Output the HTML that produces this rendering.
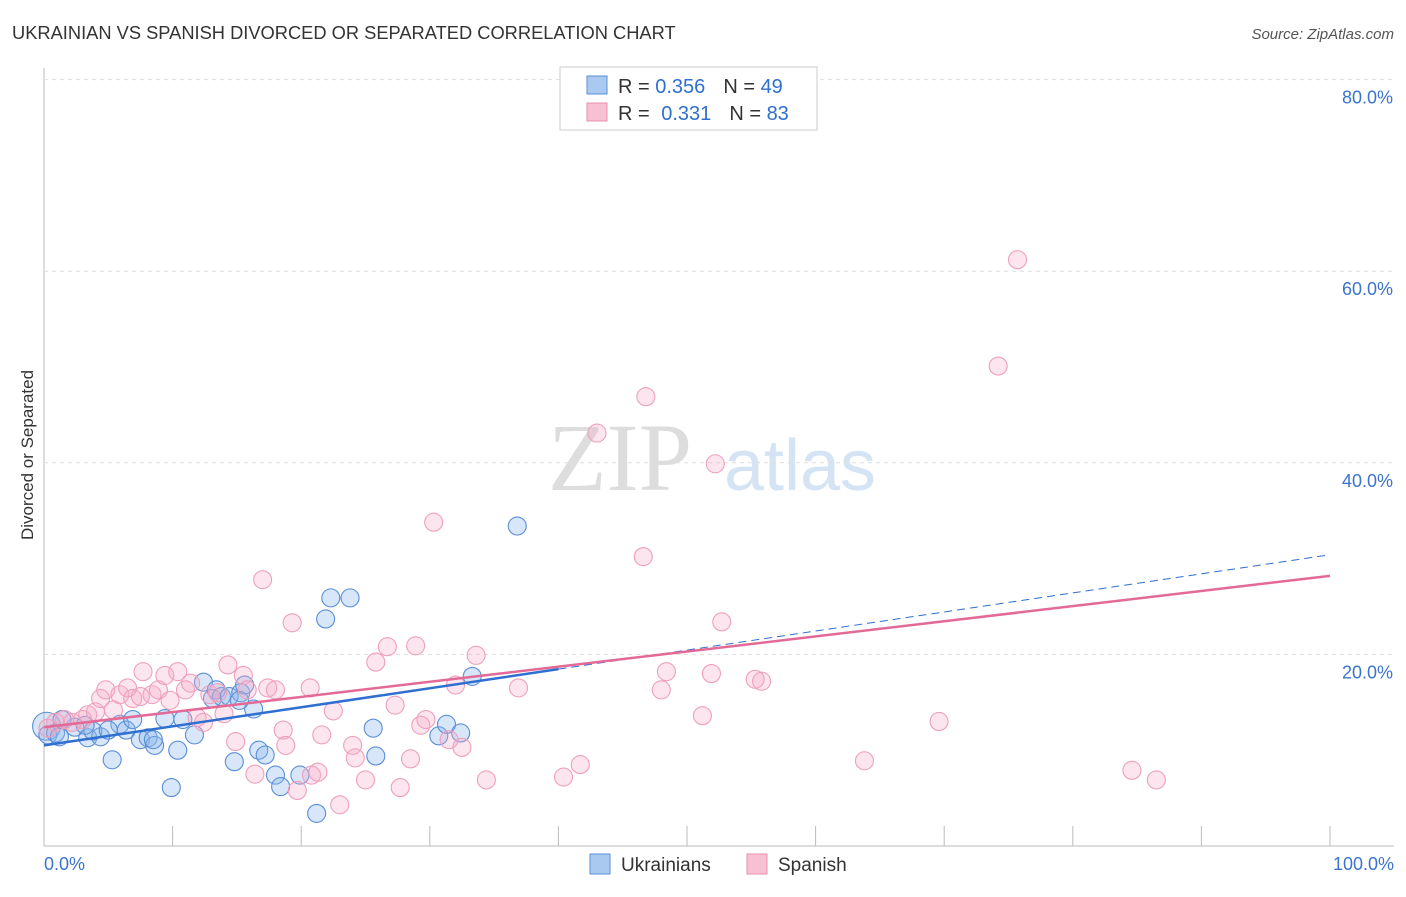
<!DOCTYPE html>
<html><head><meta charset="utf-8"><style>
body{margin:0;background:#fff;font-family:"Liberation Sans",sans-serif;}
</style></head><body>
<svg id="chart" width="1406" height="892" xmlns="http://www.w3.org/2000/svg">
<text x="12" y="39" font-size="18.3" fill="#333">UKRAINIAN VS SPANISH DIVORCED OR SEPARATED CORRELATION CHART</text>
<text x="1394" y="39" font-size="15" fill="#555" font-style="italic" text-anchor="end">Source: ZipAtlas.com</text>
<text x="620" y="490" font-size="96" fill="#ddd" font-family="Liberation Serif,serif" text-anchor="middle">ZIP</text>
<text x="800" y="490" font-size="72" fill="#d5e4f5" text-anchor="middle">atlas</text>
<text transform="translate(33,455) rotate(-90)" font-size="17" fill="#333" text-anchor="middle">Divorced or Separated</text>
<g id="grid"></g><g id="marks"></g>
<g>
<rect x="560" y="67" width="257" height="63" fill="#fff" stroke="#ccc"/>
<rect x="587" y="76" width="20" height="18" fill="#a9c9f0" stroke="#5b8ed8"/>
<rect x="587" y="103" width="20" height="18" fill="#f8c1d3" stroke="#e990ae"/>
<text x="618" y="93" font-size="20" fill="#333">R = <tspan fill="#2f6fd0">0.356</tspan><tspan dx="18">N = </tspan><tspan fill="#2f6fd0">49</tspan></text>
<text x="618" y="120" font-size="20" fill="#333">R = <tspan dx="6" fill="#2f6fd0">0.331</tspan><tspan dx="18">N = </tspan><tspan fill="#2f6fd0">83</tspan></text>
</g>
<g>
<rect x="590" y="854" width="20" height="20" fill="#a9c9f0" stroke="#5b8ed8"/>
<text x="621" y="871" font-size="19" fill="#333">Ukrainians</text>
<rect x="747" y="854" width="20" height="20" fill="#f8c1d3" stroke="#e990ae"/>
<text x="778" y="871" font-size="19" fill="#333">Spanish</text>
</g>
</svg>
<script>
const yTicks=[20,40,60,80];
const xTicks=[0,10,20,30,40,50,60,70,80,90,100];
const ukrX=[0.2,0.3,0.9,1.2,2.4,3.4,4.4,3.8,5.3,5.9,6.4,6.9,7.5,8.1,8.6,8.5,9.4,9.9,10.4,10.8,11.7,12.4,13.1,13.4,13.8,14.4,14.8,15.3,15.6,16.3,16.7,17.2,18.0,18.4,19.9,21.2,21.9,22.3,23.8,25.6,25.8,30.7,31.3,32.4,33.3,36.8,1.4,5.0,3.2,15.2];
const ukrY=[12.5,11.6,11.8,11.4,12.4,11.3,11.4,12.0,9.0,12.7,12.1,13.2,11.1,11.3,10.5,11.1,13.3,6.1,10.0,13.2,11.6,17.1,15.4,16.3,15.6,15.6,8.8,16.0,16.8,14.3,10.0,9.5,7.4,6.2,7.4,3.4,23.7,25.9,25.9,12.3,9.4,11.5,12.7,11.8,17.7,33.4,13.2,12.1,12.6,15.2];
const spaX=[0.3,0.9,1.6,2.2,3.0,3.4,4.0,4.4,4.8,5.4,5.9,6.5,6.9,7.5,7.7,8.4,8.9,9.4,9.8,10.4,11.0,11.4,11.9,12.4,12.9,13.5,14.0,14.3,14.9,15.5,15.8,16.4,17.0,17.4,18.0,18.6,18.8,19.3,19.7,20.7,20.8,21.3,21.6,22.5,23.0,24.0,24.2,25.0,25.8,26.7,27.3,27.7,28.5,28.9,29.3,29.7,30.3,31.5,32.0,32.5,33.6,34.4,36.9,40.4,41.7,43.0,46.6,46.8,48.0,48.4,51.2,51.9,52.2,52.7,55.3,55.8,63.8,69.6,74.2,75.7,84.6,86.5];
const spaY=[12.3,12.9,13.2,12.9,13.2,13.7,14.0,15.4,16.3,14.2,15.8,16.5,15.4,15.6,18.2,15.8,16.3,17.8,15.2,18.2,16.3,17.0,13.4,12.9,15.8,16.0,13.8,18.9,10.9,17.8,16.3,7.5,27.8,16.5,16.3,12.1,10.5,23.3,5.8,16.5,7.4,7.7,11.6,14.1,4.3,10.5,9.2,6.9,19.2,20.8,14.7,6.1,9.1,20.9,12.6,13.2,33.8,11.1,16.8,10.3,19.9,6.9,16.5,7.2,8.5,43.1,30.2,46.9,16.3,18.2,13.6,18.0,39.9,23.4,17.4,17.2,8.9,13.0,50.1,61.2,7.9,6.9];
const ukrTrend=[10.5,30.4];
const spaTrend=[12.4,28.2];
const X=v=>44+v*12.86, Y=v=>846-v*9.58;
const NS='http://www.w3.org/2000/svg';
const grid=document.getElementById('grid'), marks=document.getElementById('marks');
function mk(tag,attrs,parent){const e=document.createElementNS(NS,tag);for(const k in attrs)e.setAttribute(k,attrs[k]);parent.appendChild(e);return e;}
let ax=mk('line',{x1:44,y1:68,x2:44,y2:846,stroke:'#bbb'},grid);


let bx=mk('line',{x1:44,y1:846,x2:1394,y2:846,stroke:'#bbb'},grid);


yTicks.forEach(t=>{
 const g=mk('line',{x1:44,y1:Y(t),x2:1394,y2:Y(t),stroke:'#ddd','stroke-dasharray':'4 4'},grid);
 
 
 const l=mk('text',{x:1393,y:Y(t)+24,'font-size':18,fill:'#3b74d0','text-anchor':'end'},grid);l.textContent=t.toFixed(1)+'%';
 
 
});
xTicks.forEach(t=>{
 const k=mk('line',{x1:X(t),y1:826,x2:X(t),y2:846,stroke:'#bbb'},grid);
 
 
});
[[0,'0.0%','start',44],[100,'100.0%','end',1394]].forEach(a=>{
 const l=mk('text',{x:a[3],y:870,'font-size':18,fill:'#3b74d0','text-anchor':a[2]},grid);l.textContent=a[1];
 
 
});
ukrX.forEach((v,i)=>{
 const c=mk('circle',{cx:X(v),cy:Y(ukrY[i]),r:i==0?14:9,fill:'rgba(140,182,236,0.35)',stroke:'#5a8ed8','stroke-width':1.1},marks);
 
 
});
spaX.forEach((v,i)=>{
 const c=mk('circle',{cx:X(v),cy:Y(spaY[i]),r:9,fill:'rgba(245,170,198,0.3)',stroke:'#eea0bb','stroke-width':1.1},marks);
 
 
});
const ub=v=>ukrTrend[0]+(ukrTrend[1]-ukrTrend[0])*v/100;
let t1=mk('line',{x1:X(0),y1:Y(ub(0)),x2:X(40),y2:Y(ub(40)),stroke:'#2f6fd0','stroke-width':2.5},marks);


let t2=mk('line',{x1:X(40),y1:Y(ub(40)),x2:X(100),y2:Y(ub(100)),stroke:'#2f6fd0','stroke-width':1,'stroke-dasharray':'8 5'},marks);


let t3=mk('line',{x1:X(0),y1:Y(spaTrend[0]),x2:X(100),y2:Y(spaTrend[1]),stroke:'#e36a97','stroke-width':2.5},marks);


</script>
</body></html>
